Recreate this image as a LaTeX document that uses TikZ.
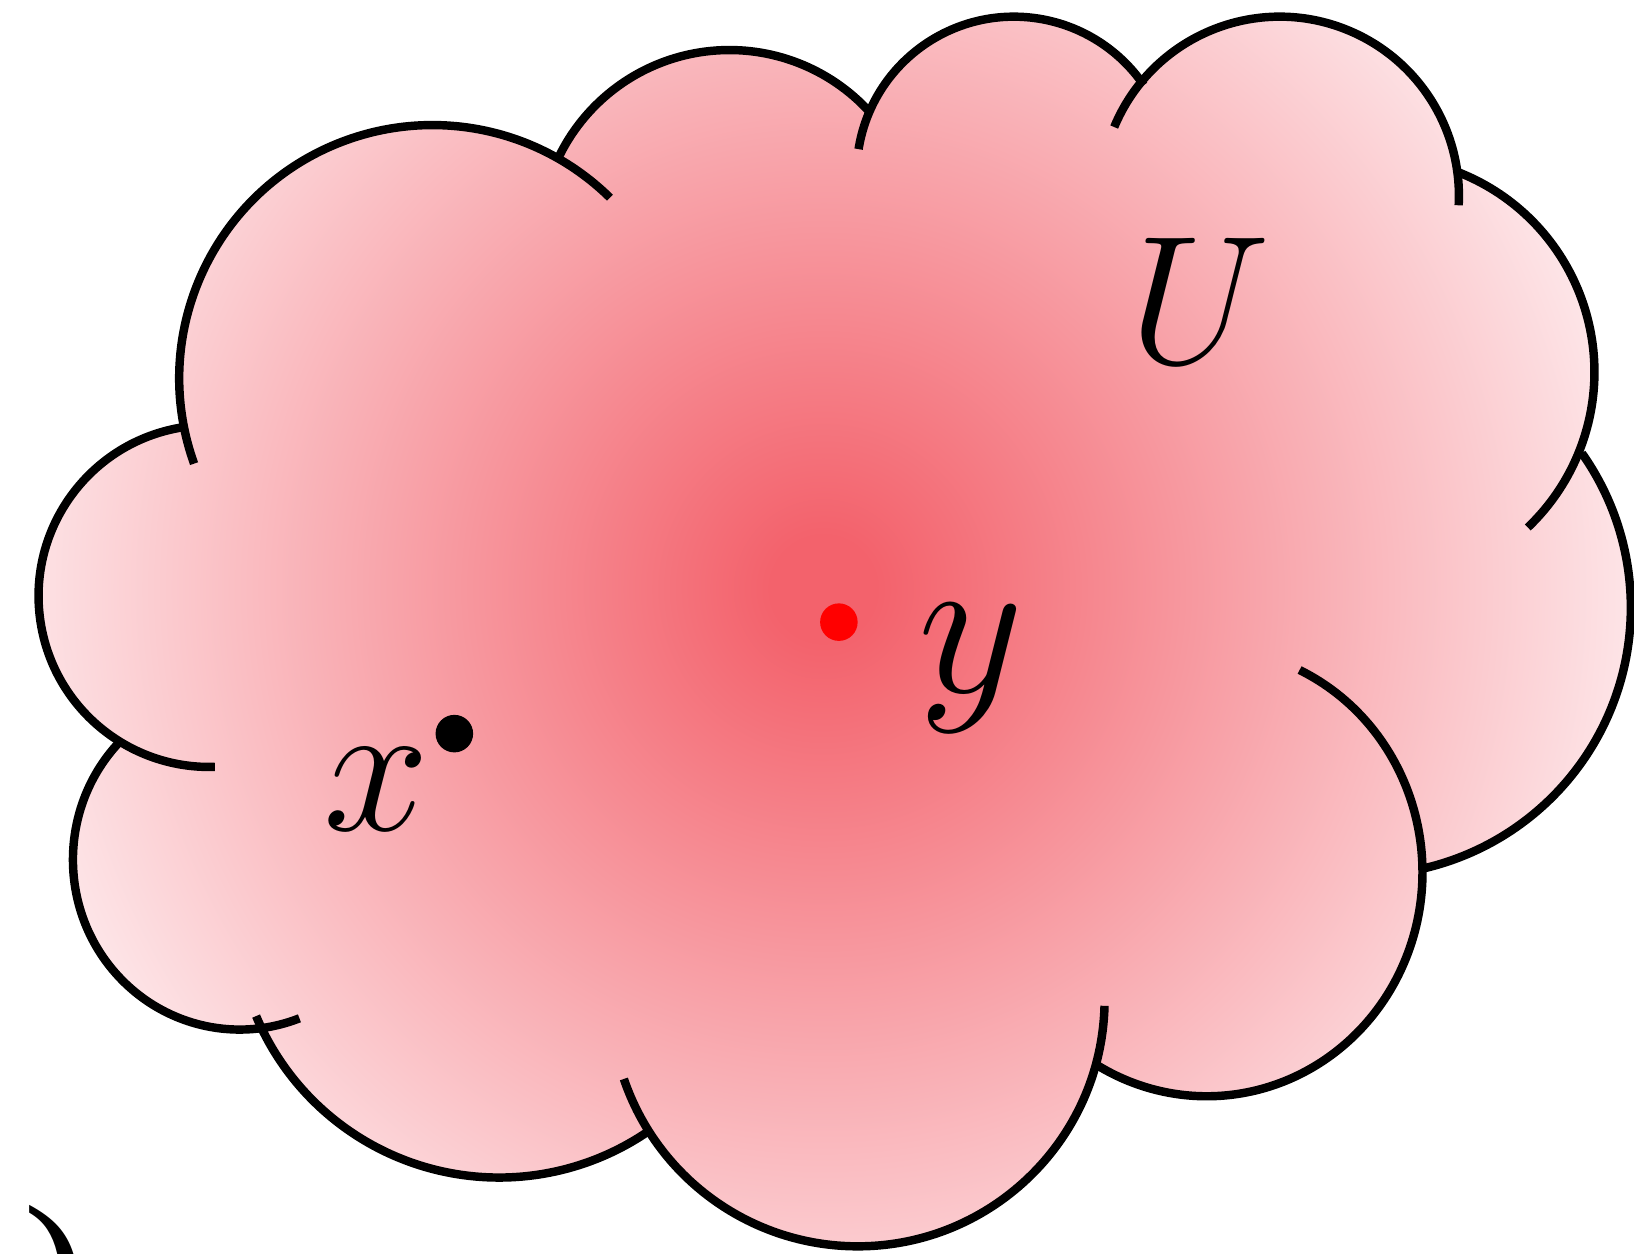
\RequirePackage{fix-cm}
\documentclass[tikz,border=0pt]{standalone}
\usepackage{fontspec}
\setmainfont{Liberation Serif}
\definecolor{cdark}{RGB}{243,98,108}
\definecolor{clight}{RGB}{254,240,242}
\pgfdeclareradialshading{cloudsh}{\pgfpoint{0bp}{0bp}}{color(0bp)=(cdark); color(1.5bp)=(cdark); color(25bp)=(clight); color(50bp)=(clight)}
\newcommand{\cloudpart}[1]{\begin{scope}\clip #1; \shade[shading=cloudsh] (790,-565) circle (840);\end{scope}}
\tikzset{
  outline/.style={line width=0.081cm, line cap=butt, draw=black},
  lbl/.style={inner sep=0pt, anchor=base},
  dotmark/.style={circle, inner sep=0pt, minimum size=0.36cm, draw=none}
}
\begin{document}
\begin{tikzpicture}[x=0.01cm,y=0.01cm]
\clip (0,0) rectangle (1568,-1203);
% fill, piece by piece with one common gradient
\cloudpart{(415,-363) circle (243)}
\cloudpart{(700,-230) circle (182)}
\cloudpart{(973,-167) circle (151)}
\cloudpart{(1228,-188) circle (172)}
\cloudpart{(1324,-357) circle (206)}
\cloudpart{(1308,-583) circle (257)}
\cloudpart{(1158,-837) ellipse (207 and 215)}
\cloudpart{(823,-959) circle (237)}
\cloudpart{(479,-877) circle (253)}
\cloudpart{(230,-825) ellipse (160 and 163)}
\cloudpart{(201,-572) circle (164)}
\cloudpart{(800,-580) ellipse (470 and 360)}
\cloudpart{(415,-363) -- (700,-230) -- (973,-167) -- (1228,-188) -- (1324,-357) -- (1308,-583) -- (1158,-837) -- (823,-959) -- (479,-877) -- (230,-825) -- (201,-572) -- cycle}
% outline arcs
\draw[outline] (415,-363) ++(199.7:243) arc[start angle=199.7, end angle=45.5, radius=243];
\draw[outline] (700,-230) ++(155.3:182) arc[start angle=155.3, end angle=42.5, radius=182];
\draw[outline] (973,-167) ++(170.9:151) arc[start angle=170.9, end angle=34.4, radius=151];
\draw[outline] (1228,-188) ++(157.4:172) arc[start angle=157.4, end angle=-3, radius=172];
\draw[outline] (1324,-357) ++(69:206) arc[start angle=69, end angle=-46.4, radius=206];
\draw[outline] (1308,-583) ++(35.2:257) arc[start angle=35.2, end angle=-77.9, radius=257];
\draw[outline] (1158,-837) ++(64.5:207 and 215) arc[start angle=64.5, end angle=-121.5, x radius=207, y radius=215];
\draw[outline] (823,-959) ++(-1.5:237) arc[start angle=-1.5, end angle=-161.2, radius=237];
\draw[outline] (479,-877) ++(-157.2:253) arc[start angle=-157.2, end angle=-55.3, radius=253];
\draw[outline] (230,-825) ++(135:160 and 163) arc[start angle=135, end angle=291, x radius=160, y radius=163];
\draw[outline] (201,-572) ++(98.8:164) arc[start angle=98.8, end angle=271.8, radius=164];
% points and labels
\node[dotmark, fill=black] (xdot) at (436,-704) {};
\node[dotmark, fill=red] (ydot) at (805,-597) {};
\node[lbl, font=\fontsize{52}{60}\selectfont] (xlab) at (361,-797) {$x$};
\node[lbl, font=\fontsize{56}{62}\selectfont] (ylab) at (932,-665) {$y$};
\node[lbl, font=\fontsize{50}{58}\selectfont] (ulab) at (1152,-349) {$U$};
\node[font=\fontsize{52}{60}\selectfont, inner sep=0pt, anchor=base west] (paren) at (22,-1283) {)};
\end{tikzpicture}
\end{document}
